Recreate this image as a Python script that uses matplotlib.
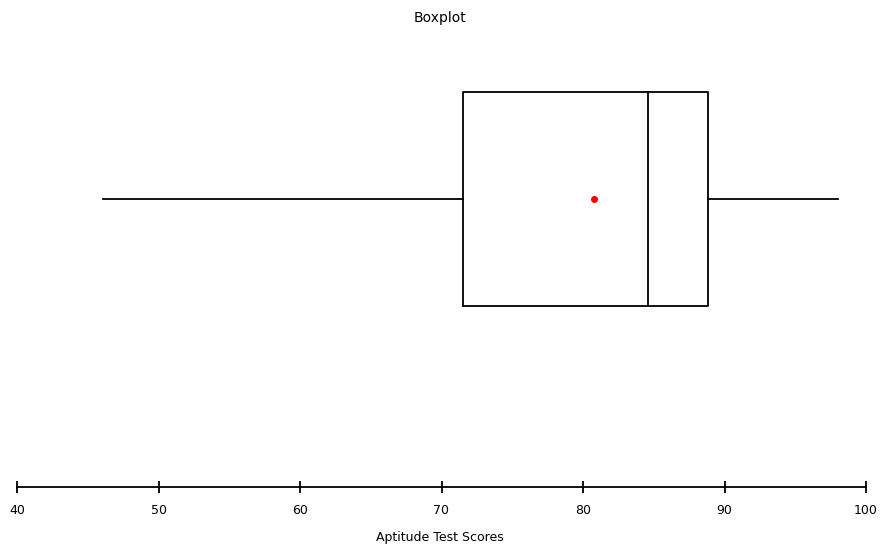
import matplotlib
matplotlib.use("Agg")
import matplotlib.pyplot as plt

# summary values
whisker_low = 46.1
q1 = 71.5
median = 84.6
q3 = 88.8
whisker_high = 98.0
mean = 80.8

xticks = [40, 50, 60, 70, 80, 90, 100]

fig = plt.figure(figsize=(8.8, 5.45), dpi=100)
ax = fig.add_axes([17 / 880, 58 / 545, 849 / 880, 447 / 545])

stats = [dict(whislo=whisker_low, q1=q1, med=median, q3=q3,
              whishi=whisker_high, mean=mean, fliers=[])]
ax.bxp(stats, positions=[0.644], widths=0.479, vert=False,
       showmeans=True, showcaps=False,
       boxprops=dict(color='black', linewidth=1.3),
       medianprops=dict(color='black', linewidth=1.3),
       whiskerprops=dict(color='black', linewidth=1.3),
       meanprops=dict(marker='o', markerfacecolor='red',
                      markeredgecolor='red', markersize=4))

ax.set_xlim(40, 100)
ax.set_ylim(0, 1)
ax.set_xticks(xticks)
ax.set_xticklabels([str(t) for t in xticks], fontsize=9)
ax.set_yticks([])
for s in ['top', 'right', 'left']:
    ax.spines[s].set_visible(False)
ax.spines['bottom'].set_linewidth(1.3)
ax.tick_params(axis='x', direction='inout', length=9, width=1.3, pad=8)

fig.text(440 / 880, 1 - 18 / 545, 'Boxplot', ha='center', va='center', fontsize=10)
fig.text(440 / 880, 1 - 537 / 545, 'Aptitude Test Scores', ha='center', va='center', fontsize=9)

fig.savefig('out.png', dpi=100)
